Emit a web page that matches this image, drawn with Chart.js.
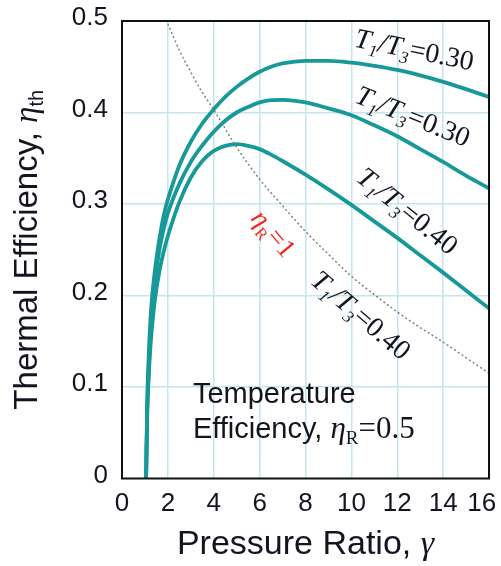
<!DOCTYPE html>
<html>
<head>
<meta charset="utf-8">
<script src="https://cdn.jsdelivr.net/npm/chart.js@4.4.1/dist/chart.umd.min.js"></script>
<style>
  html, body { margin: 0; padding: 0; background: #ffffff; }
  canvas { display: block; }
</style>
</head>
<body>
<canvas id="c" width="501" height="566"></canvas>
<script>
// ---- Data ----
// Upper curve, label T1/T3 = 0.30
const gamma1 = [1.05, 1.10, 1.15, 1.20, 1.25, 1.30, 1.40, 1.50, 1.60, 1.70, 1.80, 1.90, 2.00, 2.50, 3.00, 3.50, 4.00, 4.50, 5.00, 5.50, 6.00, 6.50, 7.00, 8.00, 9.00, 10.0, 11.0, 12.0, 13.0, 14.0, 15.0, 16.0];
const eta1   = [0.000, 0.085, 0.125, 0.155, 0.178, 0.195, 0.220, 0.240, 0.257, 0.272, 0.285, 0.296, 0.305, 0.342, 0.368, 0.388, 0.4035, 0.417, 0.428, 0.437, 0.4445, 0.450, 0.4537, 0.4565, 0.4565, 0.4545, 0.451, 0.4465, 0.4405, 0.4335, 0.4255, 0.417];
// Middle curve, label T1/T3 = 0.30
const gamma2 = [1.05, 1.10, 1.15, 1.20, 1.25, 1.30, 1.40, 1.50, 1.60, 1.70, 1.80, 1.90, 2.00, 2.50, 3.00, 3.50, 4.00, 4.50, 5.00, 5.50, 6.00, 6.50, 7.00, 8.00, 9.00, 10.0, 11.0, 12.0, 13.0, 14.0, 15.0, 16.0];
const eta2   = [0.000, 0.075, 0.112, 0.140, 0.162, 0.180, 0.207, 0.228, 0.245, 0.259, 0.271, 0.281, 0.290, 0.322, 0.346, 0.364, 0.379, 0.391, 0.400, 0.406, 0.411, 0.4135, 0.4138, 0.411, 0.4045, 0.397, 0.386, 0.374, 0.360, 0.346, 0.331, 0.317];
// Lower curve, label T1/T3 = 0.40
const gamma3 = [1.05, 1.10, 1.15, 1.20, 1.25, 1.30, 1.40, 1.50, 1.60, 1.70, 1.80, 1.90, 2.00, 2.50, 3.00, 3.50, 4.00, 4.50, 5.00, 5.50, 6.00, 6.50, 7.00, 8.00, 9.00, 10.0, 11.0, 12.0, 13.0, 14.0, 15.0, 16.0];
const eta3   = [0.000, 0.070, 0.103, 0.128, 0.148, 0.163, 0.188, 0.207, 0.222, 0.235, 0.246, 0.256, 0.265, 0.302, 0.329, 0.347, 0.358, 0.3635, 0.3655, 0.3635, 0.360, 0.354, 0.347, 0.332, 0.316, 0.299, 0.281, 0.263, 0.244, 0.225, 0.2055, 0.186];
// Dotted curve, eta_R = 1, T1/T3 = 0.40
const gammaR1 = [2.0, 2.5, 3.0, 3.5, 4.0, 5.0, 6.0, 7.0, 8.0, 9.0, 10.0, 11.0, 12.0, 13.0, 14.0, 15.0, 16.0];
const etaR1   = [0.497, 0.468, 0.444, 0.422, 0.403, 0.362, 0.327, 0.298, 0.270, 0.245, 0.221, 0.201, 0.182, 0.165, 0.149, 0.132, 0.115];

const xTickLabels = ['0', '2', '4', '6', '8', '10', '12', '14', '16'];
const yTickLabels = ['0', '0.1', '0.2', '0.3', '0.4', '0.5'];

// ---- Styling ----
const TEAL = '#17999a';
const GRID = '#c3e5eb';
const INK = '#141420';
const SANS = "'Liberation Sans', Arial, sans-serif";
const SERIF = "'Liberation Serif', 'Times New Roman', serif";

function pts(xs, ys) { return xs.map((x, i) => ({ x: x, y: ys[i] })); }

function drawRich(ctx, parts, x, y, angleDeg, align, baseShift) {
  ctx.save();
  ctx.translate(x, y);
  ctx.rotate(angleDeg * Math.PI / 180);
  let w = 0;
  parts.forEach(p => { ctx.font = p.font; p.w = ctx.measureText(p.t).width; w += p.w + (p.gap || 0); });
  let cx = align === 'center' ? -w / 2 : 0;
  ctx.textBaseline = 'alphabetic';
  ctx.textAlign = 'left';
  parts.forEach(p => {
    ctx.font = p.font;
    ctx.fillStyle = p.color || INK;
    ctx.fillText(p.t, cx, (baseShift || 0) + (p.dy || 0));
    cx += p.w + (p.gap || 0);
  });
  ctx.restore();
}

function ratioLabel(value, size) {
  const it = 'italic ' + size + 'px ' + SERIF;
  const sub = 'italic ' + Math.round(size * 0.6) + 'px ' + SERIF;
  const rm = size + 'px ' + SERIF;
  return [
    { t: 'T', font: it },
    { t: '1', font: sub, dy: size * 0.22 },
    { t: '/', font: it },
    { t: 'T', font: it },
    { t: '3', font: sub, dy: size * 0.22 },
    { t: '=' + value, font: rm }
  ];
}

const annotations = {
  id: 'annotations',
  afterDatasetsDraw(chart) {
    const ctx = chart.ctx;
    const a = chart.chartArea;
    const xs = chart.scales.x, ys = chart.scales.y;
    // frame
    ctx.save();
    ctx.strokeStyle = '#111';
    ctx.lineWidth = 2;
    ctx.strokeRect(a.left, a.top, a.right - a.left, a.bottom - a.top);
    ctx.restore();

    const S = 28;
    const off = S * 0.33;
    // curve labels (anchored in data coordinates)
    drawRich(ctx, ratioLabel('0.30', S), xs.getPixelForValue(12.75), ys.getPixelForValue(0.469), 11.5, 'center', off);
    drawRich(ctx, ratioLabel('0.30', S), xs.getPixelForValue(12.69), ys.getPixelForValue(0.396), 22, 'center', off);
    drawRich(ctx, ratioLabel('0.40', S), xs.getPixelForValue(12.46), ys.getPixelForValue(0.2926), 39, 'center', off);
    drawRich(ctx, ratioLabel('0.40', S), xs.getPixelForValue(10.43), ys.getPixelForValue(0.1787), 40.5, 'center', off);
    // red eta_R = 1
    const RED = '#f5261b';
    drawRich(ctx, [
      { t: '\u03B7', font: 'italic 27px ' + SERIF, color: RED },
      { t: 'R', font: '16px ' + SERIF, color: RED, dy: 6 },
      { t: '=1', font: '27px ' + SERIF, color: RED }
    ], xs.getPixelForValue(6.62), ys.getPixelForValue(0.268), 50, 'center', 9);

    // Temperature efficiency note
    drawRich(ctx, [{ t: 'Temperature', font: '29px ' + SANS }],
      xs.getPixelForValue(3.09), ys.getPixelForValue(0.0822), 0, 'left', 0);
    drawRich(ctx, [
      { t: 'Efficiency, ', font: '29px ' + SANS },
      { t: '\u03B7', font: 'italic 31px ' + SERIF },
      { t: 'R', font: '19px ' + SERIF, dy: 6 },
      { t: '=0.5', font: '31px ' + SERIF }
    ], xs.getPixelForValue(3.09), ys.getPixelForValue(0.0439), 0, 'left', 0);

    // axis titles
    const midX = (a.left + a.right) / 2;
    drawRich(ctx, [
      { t: 'Pressure Ratio, ', font: '34px ' + SANS },
      { t: '\u03B3', font: 'italic 34px ' + SERIF }
    ], midX, 554, 0, 'center', 0);
    const midY = (a.top + a.bottom) / 2;
    drawRich(ctx, [
      { t: 'Thermal Efficiency, ', font: '33px ' + SANS },
      { t: '\u03B7', font: 'italic 33px ' + SERIF },
      { t: 'th', font: '20px ' + SANS, dy: 6 }
    ], 37, midY, -90, 'center', 0);
  }
};

new Chart(document.getElementById('c'), {
  type: 'line',
  data: {
    datasets: [
      { data: pts(gammaR1, etaR1), borderColor: '#7a7a7a', borderWidth: 1.4, borderDash: [2, 2.5], pointRadius: 0, cubicInterpolationMode: 'monotone', fill: false },
      { data: pts(gamma1, eta1), borderColor: TEAL, borderWidth: 3.8, pointRadius: 0, cubicInterpolationMode: 'monotone', fill: false },
      { data: pts(gamma2, eta2), borderColor: TEAL, borderWidth: 3.8, pointRadius: 0, cubicInterpolationMode: 'monotone', fill: false },
      { data: pts(gamma3, eta3), borderColor: TEAL, borderWidth: 3.8, pointRadius: 0, cubicInterpolationMode: 'monotone', fill: false }
    ]
  },
  options: {
    responsive: false,
    animation: false,
    devicePixelRatio: 1,
    layout: { padding: { left: 0, top: 21, right: 12, bottom: 0 } },
    plugins: { legend: { display: false }, tooltip: { enabled: false }, title: { display: false } },
    scales: {
      x: {
        type: 'linear', min: 0, max: 16,
        border: { display: false },
        grid: {
          drawTicks: false, lineWidth: 1.5,
          color: c => (c.tick && (c.tick.value <= 0 || c.tick.value >= 16)) ? 'rgba(0,0,0,0)' : GRID
        },
        ticks: {
          stepSize: 2, padding: 10, color: INK, maxRotation: 0, autoSkip: false,
          font: { family: SANS, size: 26 },
          // the last label is kept inside the canvas edge, as in the reference
          callback: v => {
            const i = Math.round(v / 2);
            return i === xTickLabels.length - 1 ? xTickLabels[i] + '\u2007' : xTickLabels[i];
          }
        },
        afterFit: s => { s.height = 566 - 478.5; s.paddingLeft = 0; s.paddingRight = 0; }
      },
      y: {
        type: 'linear', min: 0, max: 0.5,
        border: { display: false },
        grid: {
          drawTicks: false, lineWidth: 1.5,
          color: c => (c.tick && (c.tick.value <= 1e-9 || c.tick.value >= 0.5 - 1e-9)) ? 'rgba(0,0,0,0)' : GRID
        },
        ticks: {
          stepSize: 0.1, padding: 14, color: INK, labelOffset: -3,
          font: { family: SANS, size: 26 },
          callback: v => yTickLabels[Math.round(v * 10)]
        },
        afterFit: s => { s.width = 122; s.paddingTop = 0; s.paddingBottom = 0; }
      }
    }
  },
  plugins: [annotations]
});
</script>
</body>
</html>
